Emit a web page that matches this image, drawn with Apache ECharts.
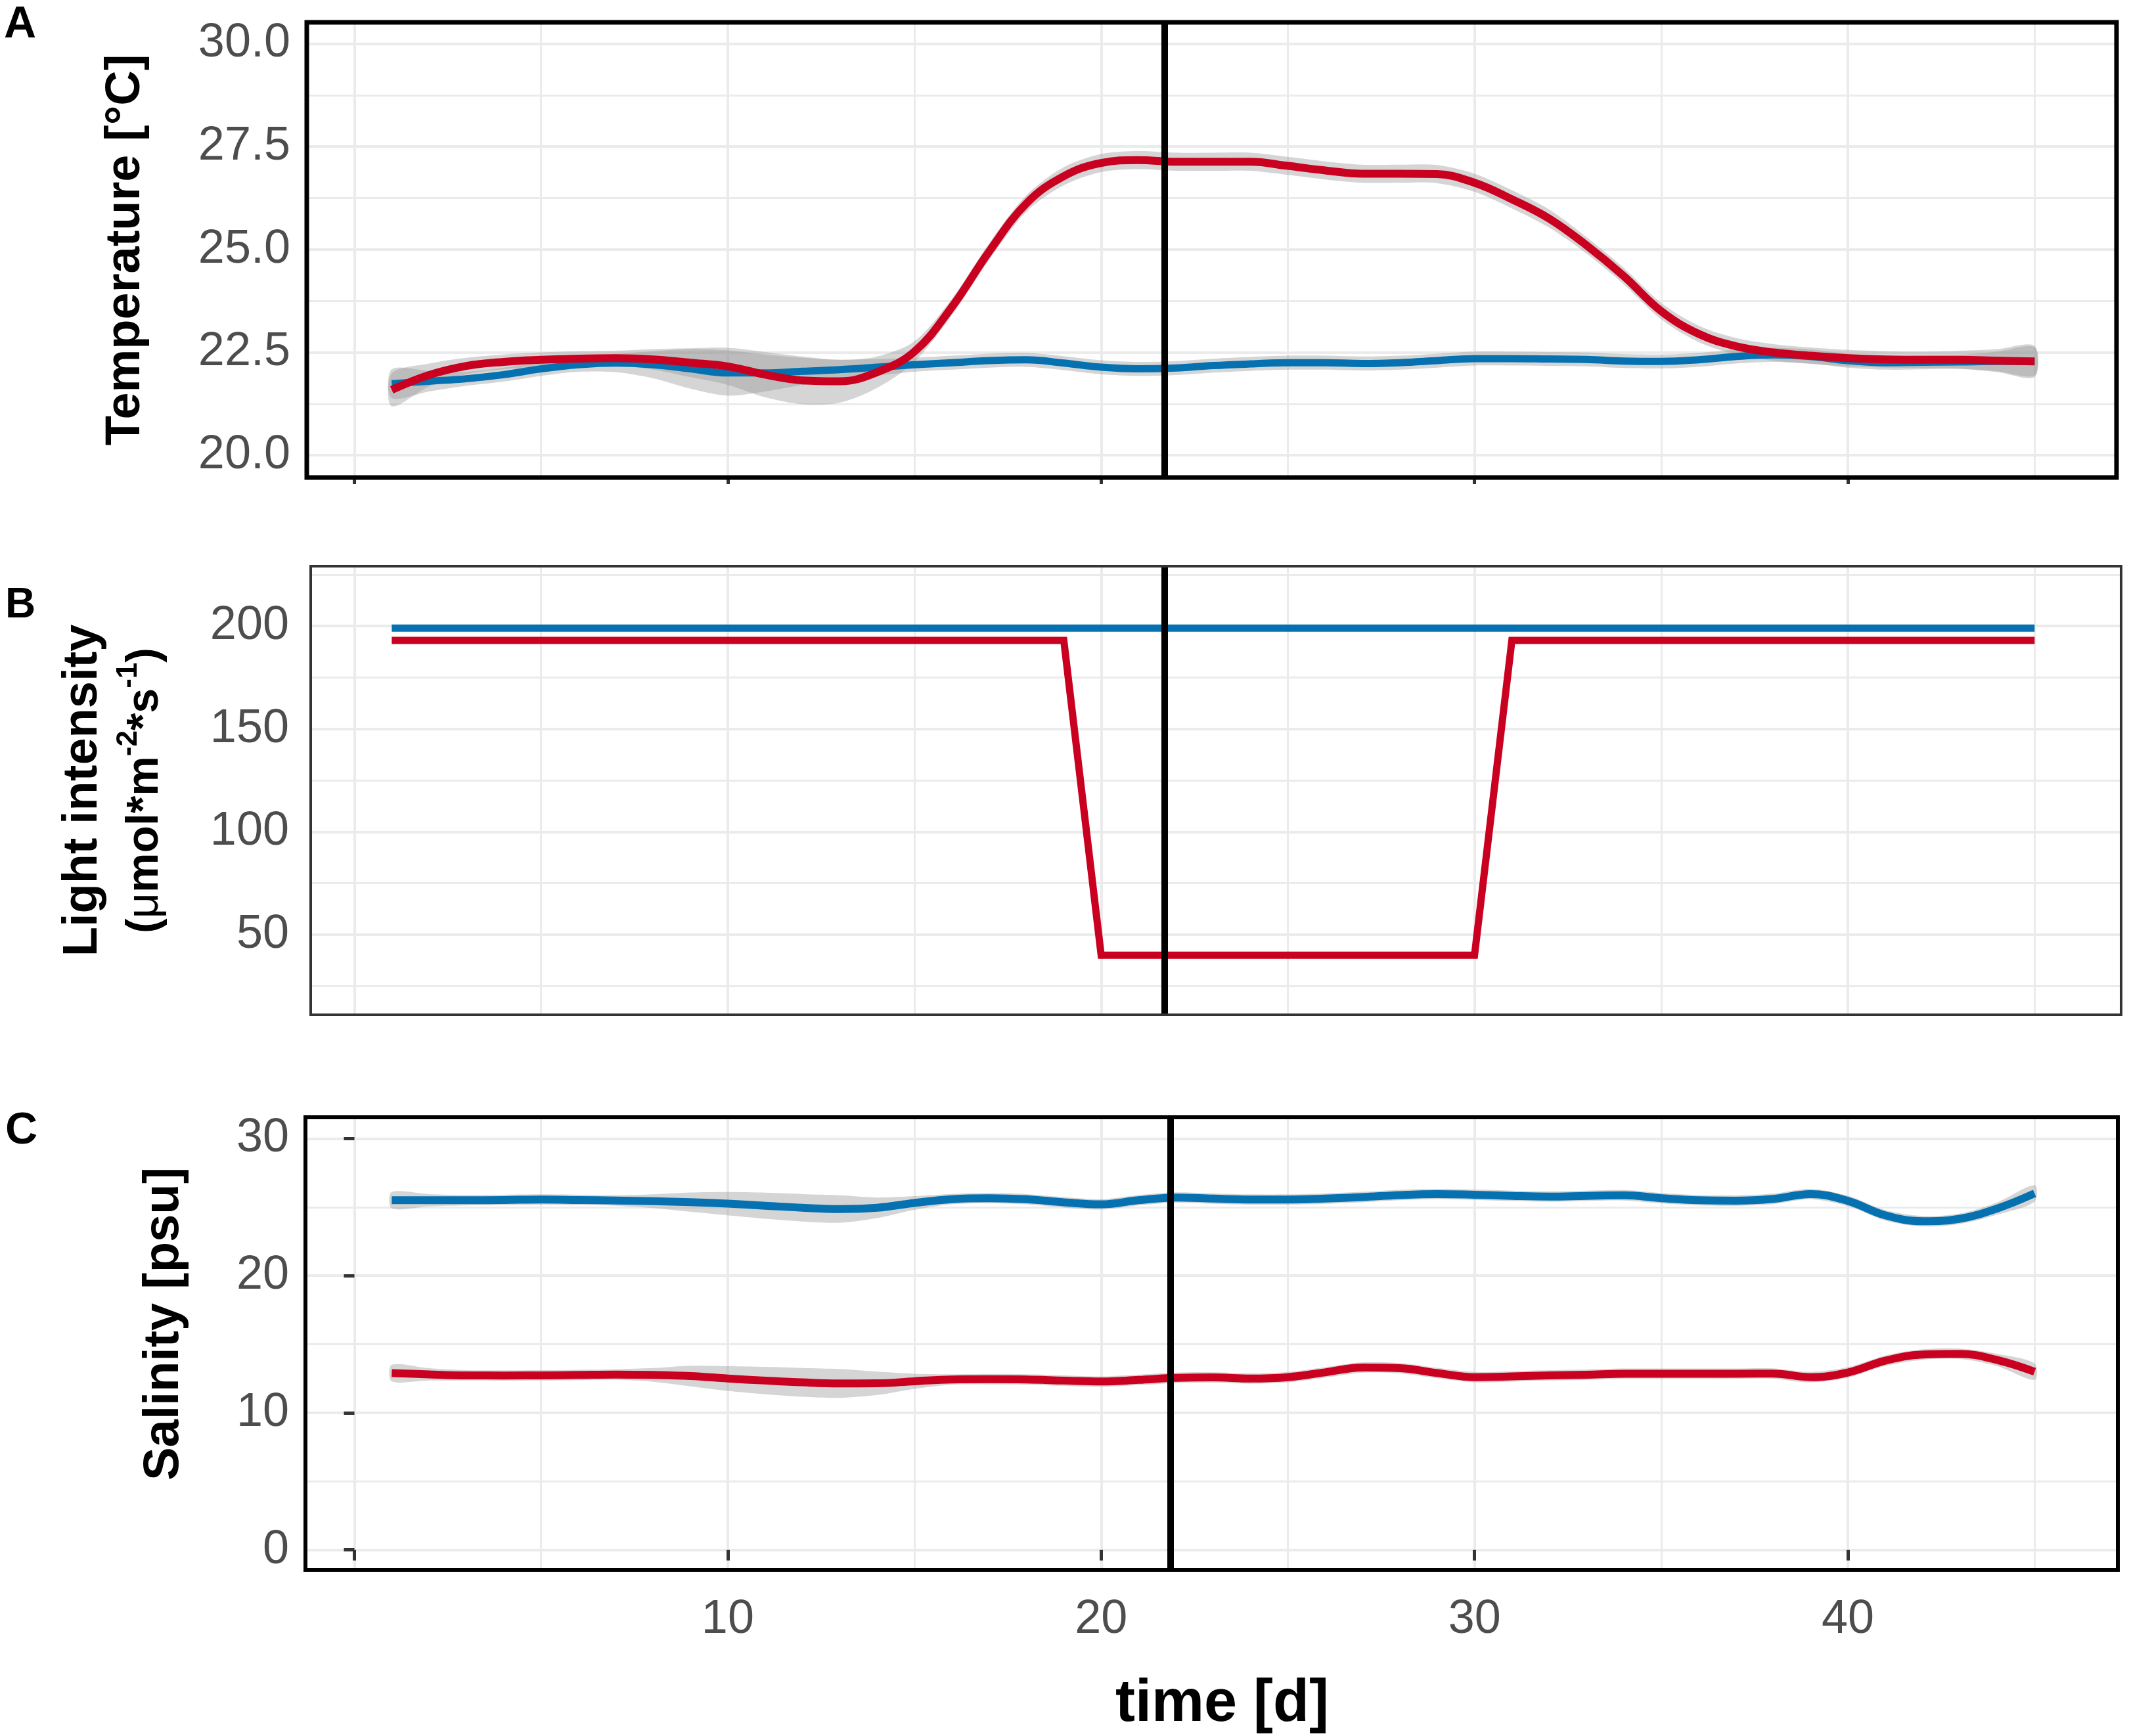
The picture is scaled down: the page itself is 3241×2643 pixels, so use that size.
<!DOCTYPE html>
<html><head><meta charset="utf-8">
<script src="https://cdn.jsdelivr.net/npm/echarts@6/dist/echarts.min.js"></script>
<style>html,body{margin:0;padding:0;background:#fff}#c{width:3241px;height:2643px}</style>
</head><body><div id="c"></div>
<script>
// ---------- data ----------
const days = [1,2,3,4,5,6,7,8,9,10,11,12,13,14,15,16,17,18,19,20,21,22,23,24,25,26,27,28,29,30,31,32,33,34,35,36,37,38,39,40,41,42,43,44,45];

const tempRed = [21.59,21.95,22.17,22.27,22.32,22.35,22.36,22.33,22.25,22.16,21.96,21.82,21.80,22.02,22.52,23.60,24.95,26.12,26.78,27.10,27.17,27.13,27.13,27.13,27.03,26.92,26.84,26.84,26.83,26.62,26.22,25.75,25.10,24.35,23.50,22.95,22.65,22.50,22.42,22.36,22.33,22.32,22.32,22.30,22.28];
const tempRedSe = [0.4,0.28,0.2,0.18,0.18,0.18,0.18,0.25,0.35,0.45,0.55,0.58,0.52,0.38,0.25,0.2,0.2,0.2,0.22,0.22,0.22,0.22,0.22,0.22,0.22,0.22,0.22,0.22,0.22,0.22,0.22,0.22,0.2,0.2,0.2,0.2,0.2,0.2,0.2,0.2,0.2,0.2,0.22,0.28,0.38];
const tempBlue = [21.74,21.80,21.86,21.96,22.10,22.20,22.24,22.20,22.10,22.00,22.00,22.04,22.08,22.14,22.20,22.25,22.30,22.32,22.24,22.14,22.10,22.12,22.18,22.22,22.25,22.25,22.23,22.25,22.30,22.35,22.35,22.34,22.33,22.29,22.28,22.32,22.40,22.44,22.40,22.30,22.25,22.26,22.27,22.28,22.28];
const tempBlueSe = [0.35,0.25,0.17,0.17,0.17,0.17,0.22,0.33,0.48,0.55,0.45,0.33,0.24,0.2,0.17,0.17,0.17,0.17,0.17,0.17,0.17,0.17,0.17,0.17,0.17,0.17,0.17,0.17,0.17,0.17,0.17,0.17,0.17,0.17,0.17,0.17,0.17,0.17,0.17,0.17,0.17,0.17,0.17,0.24,0.34];

const lightRedDays = [1,19,20,30,31,45];
const lightRed = [193,193,40,40,193,193];
const lightBlueDays = [1,45];
const lightBlue = [199,199];

const salBlue = [25.50,25.50,25.50,25.52,25.55,25.52,25.48,25.43,25.36,25.25,25.10,24.95,24.86,24.95,25.30,25.58,25.65,25.57,25.35,25.20,25.50,25.70,25.62,25.55,25.55,25.62,25.73,25.88,25.95,25.90,25.82,25.77,25.82,25.86,25.65,25.50,25.47,25.60,25.95,25.45,24.40,23.97,24.15,24.90,26.00];
const salBlueSe = [0.6,0.45,0.38,0.38,0.38,0.38,0.38,0.5,0.7,0.85,0.95,1.0,1.0,0.75,0.5,0.38,0.38,0.38,0.38,0.38,0.38,0.38,0.38,0.38,0.38,0.38,0.38,0.38,0.38,0.38,0.38,0.38,0.38,0.38,0.38,0.38,0.38,0.38,0.38,0.38,0.38,0.38,0.38,0.45,0.6];
const salRed = [12.90,12.80,12.73,12.72,12.73,12.76,12.79,12.76,12.68,12.50,12.35,12.22,12.14,12.15,12.30,12.43,12.45,12.43,12.35,12.28,12.40,12.55,12.58,12.50,12.60,12.95,13.30,13.25,12.90,12.60,12.65,12.73,12.78,12.85,12.85,12.85,12.85,12.86,12.60,12.94,13.80,14.25,14.30,13.85,13.00];
const salRedSe = [0.6,0.45,0.38,0.38,0.38,0.38,0.38,0.5,0.75,0.9,1.0,1.05,1.05,0.85,0.55,0.38,0.38,0.38,0.38,0.38,0.38,0.38,0.38,0.38,0.38,0.38,0.38,0.38,0.38,0.38,0.38,0.38,0.38,0.38,0.38,0.38,0.38,0.38,0.38,0.38,0.38,0.38,0.38,0.45,0.6];

const eventDay = [21.7, 21.7, 21.85];

const tempTicks = [20, 22.5, 25, 27.5, 30];
const tempMinor = [21.25, 23.75, 26.25, 28.75];
const lightTicks = [50, 100, 150, 200];
const lightMinor = [25, 75, 125, 175, 225];
const salTicks = [0, 10, 20, 30];
const salMinor = [5, 15, 25];
const timeTicks = [0, 10, 20, 30, 40];
const timeLabels = [10, 20, 30, 40];
const timeMinor = [5, 15, 25, 35, 45];

// ---------- styling ----------
const FONT = 'Liberation Sans, Arial, Helvetica, sans-serif';
const RED = '#CA0020', BLUE = '#0571B0';
const BAND = 'rgba(150,150,150,0.4)';
const GRIDC = '#ebebeb';

const pairs = (xs, ys) => xs.map((x, i) => [x, ys[i]]);

function bandSeries(g, mean, se) {
  const rows = days.map((d, i) => [d, mean[i] - se[i], mean[i] + se[i]]);
  return {
    type:'custom', xAxisIndex:g, yAxisIndex:g, data: rows, encode:{x:0, y:[1,2]},
    silent:true, z:2, clip:true,
    renderItem: (params, api) => {
      if (params.dataIndex !== 0) return null;
      const up = rows.map(r => api.coord([r[0], r[2]]));
      const lo = rows.map(r => api.coord([r[0], r[1]])).reverse();
      return {type:'polygon', shape:{points: up.concat(lo), smooth:0.3}, style:{fill:BAND}};
    }
  };
}
function lineSeries(g, xs, ys, color, width, smooth) {
  return {type:'line', xAxisIndex:g, yAxisIndex:g, data: pairs(xs, ys), symbol:'none',
    smooth: smooth, lineStyle:{color, width, cap:'butt', join:'miter'}, silent:true, z:3};
}
function gridLines(g, yMaj, yMin) {
  const data = [];
  yMaj.forEach(v => data.push({yAxis:v, lineStyle:{color:GRIDC, width:4, type:'solid'}}));
  yMin.forEach(v => data.push({yAxis:v, lineStyle:{color:GRIDC, width:3, type:'solid'}}));
  timeTicks.forEach(v => data.push({xAxis:v, lineStyle:{color:GRIDC, width:4, type:'solid'}}));
  timeMinor.forEach(v => data.push({xAxis:v, lineStyle:{color:GRIDC, width:3, type:'solid'}}));
  return {type:'line', xAxisIndex:g, yAxisIndex:g, data:[], silent:true, z:0,
    markLine:{silent:true, symbol:['none','none'], label:{show:false}, animation:false, z:0, data}};
}
function eventLine(g) {
  return {type:'line', xAxisIndex:g, yAxisIndex:g, data:[], silent:true, z:6,
    markLine:{silent:true, symbol:['none','none'], label:{show:false}, animation:false, z:6,
      data:[{xAxis:eventDay[g], lineStyle:{color:'#000', width:10, type:'solid'}}]}};
}

const grids = [
  {left:467, top:34, width:2755, height:693, show:true, borderColor:'#000', borderWidth:7, backgroundColor:'transparent', z:10},
  {left:473, top:862, width:2756, height:683, show:true, borderColor:'#333', borderWidth:4, backgroundColor:'transparent', z:10},
  {left:465, top:1701, width:2759, height:689, show:true, borderColor:'#000', borderWidth:6, backgroundColor:'transparent', z:10}
];
const xRanges = [[-1.2755, 47.194], [-1.170, 47.317], [-1.311, 47.229]];

const xAxes = xRanges.map((r, g) => ({
  gridIndex:g, type:'value', min:r[0], max:r[1],
  axisLine:{show:false}, splitLine:{show:false},
  axisTick: g===1 ? {show:false} : {show:true, customValues:timeTicks, length: g===2?16:10, lineStyle:{color:'#333', width:5}},
  axisLabel: g===2 ? {show:true, customValues:timeLabels, fontSize:72, color:'#4d4d4d', margin:40, fontFamily:FONT} : {show:false},
  name: g===2 ? 'time [d]' : '', nameLocation:'middle', nameGap:160,
  nameTextStyle:{fontSize:90, fontWeight:'bold', color:'#000', fontFamily:FONT, padding:[0,0,0,32]}
}));

const yAxes = [
  {gridIndex:0, type:'value', min:19.461, max:30.517,
   axisLine:{show:false}, axisTick:{show:false}, splitLine:{show:false},
   axisLabel:{customValues:tempTicks, formatter:v=>Number(v).toFixed(1), fontSize:72, color:'#4d4d4d', margin:25, fontFamily:FONT},
   name:'Temperature [°C]', nameLocation:'middle', nameGap:238,
   nameTextStyle:{fontSize:74, fontWeight:'bold', color:'#000', fontFamily:FONT}},
  {gridIndex:1, type:'value', min:11.02, max:229.09,
   axisLine:{show:false}, axisTick:{show:false}, splitLine:{show:false},
   axisLabel:{customValues:lightTicks, fontSize:72, color:'#4d4d4d', margin:33, fontFamily:FONT},
   name:'{a|Light intensity}\n{b|(}{mu|μ}{b|mol*m}{sup|-2}{b|*s}{sup|-1}{b|)}', nameLocation:'middle', nameGap:205,
   nameTextStyle:{fontSize:74, fontWeight:'bold', color:'#000', fontFamily:FONT, lineHeight:94,
     rich:{
       a:{fontSize:74, fontWeight:'bold', color:'#000', fontFamily:FONT, lineHeight:94},
       b:{fontSize:68, fontWeight:'bold', color:'#000', fontFamily:FONT, lineHeight:94},
       mu:{fontSize:68, fontWeight:'normal', color:'#000', fontFamily:FONT, lineHeight:94},
       sup:{fontSize:44, fontWeight:'bold', color:'#000', fontFamily:FONT, lineHeight:62, verticalAlign:'top'}
     }}},
  {gridIndex:2, type:'value', min:-1.45, max:31.55,
   axisLine:{show:false}, splitLine:{show:false},
   axisTick:{show:true, customValues:salTicks, length:16, lineStyle:{color:'#333', width:5}},
   axisLabel:{customValues:salTicks, fontSize:72, color:'#4d4d4d', margin:25, fontFamily:FONT},
   name:'Salinity [psu]', nameLocation:'middle', nameGap:177,
   nameTextStyle:{fontSize:76, fontWeight:'bold', color:'#000', fontFamily:FONT, padding:[0,0,0,60]}}
];

const series = [
  gridLines(0, tempTicks, tempMinor),
  gridLines(1, lightTicks, lightMinor),
  gridLines(2, salTicks, salMinor),
  bandSeries(0, tempBlue, tempBlueSe),
  bandSeries(0, tempRed, tempRedSe),
  lineSeries(0, days, tempBlue, BLUE, 11, 0.4),
  lineSeries(0, days, tempRed, RED, 12, 0.4),
  lineSeries(1, lightBlueDays, lightBlue, BLUE, 11, false),
  lineSeries(1, lightRedDays, lightRed, RED, 11, false),
  bandSeries(2, salBlue, salBlueSe),
  bandSeries(2, salRed, salRedSe),
  lineSeries(2, days, salBlue, BLUE, 12, 0.4),
  lineSeries(2, days, salRed, RED, 12, 0.4),
  eventLine(0), eventLine(1), eventLine(2)
];

const chart = echarts.init(document.getElementById('c'), null, {renderer:'canvas'});
chart.setOption({
  backgroundColor:'#fff',
  animation:false,
  grid: grids,
  xAxis: xAxes,
  yAxis: yAxes,
  series,
  graphic:[
    {type:'text', left:6, top:4, style:{text:'A', font:'bold 68px '+FONT, fill:'#000'}},
    {type:'text', left:8, top:890, style:{text:'B', font:'bold 64px '+FONT, fill:'#000'}},
    {type:'text', left:8, top:1688, style:{text:'C', font:'bold 68px '+FONT, fill:'#000'}}
  ]
});
</script></body></html>
